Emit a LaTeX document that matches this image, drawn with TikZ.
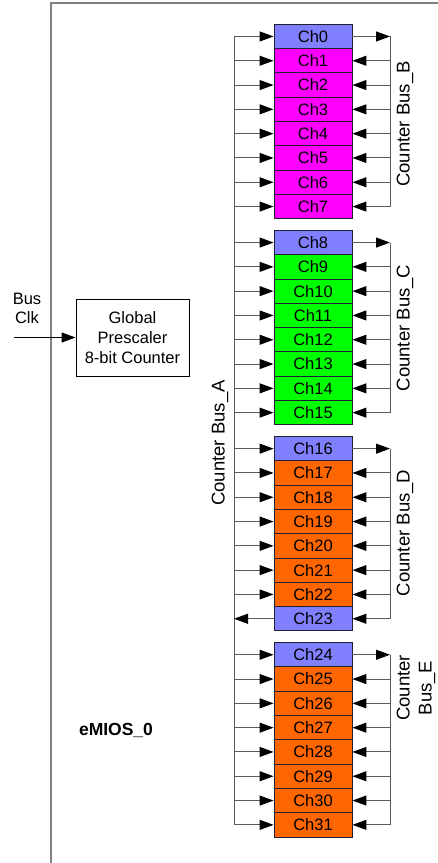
\documentclass[tikz,border=0pt]{standalone}
\usepackage{fontspec}
\setmainfont{Liberation Sans}
\usetikzlibrary{arrows.meta}
\definecolor{chblue}{HTML}{8080FF}
\definecolor{chmag}{HTML}{FF00FF}
\definecolor{chgreen}{HTML}{00FF00}
\definecolor{chorange}{HTML}{FF6600}
\definecolor{wire}{HTML}{5A5A5A}
\definecolor{framegray}{HTML}{808080}
\definecolor{boxline}{HTML}{202035}
\begin{document}
\begin{tikzpicture}[x=1pt,y=-1pt,
  chbox/.style={draw=boxline, line width=0.9pt, minimum width=78pt, minimum height=24.3pt, inner sep=0pt, font=\fontsize{16.5}{19}\selectfont},
  wireline/.style={draw=wire, line width=1pt},
  arr/.style={wireline, -{Triangle[length=14pt,width=10pt,color=black]}},
  buslabel/.style={rotate=90, font=\fontsize{18.5}{22}\selectfont, inner sep=0pt},
  plain/.style={font=\fontsize{16.5}{20}\selectfont, inner sep=0pt},
]
\useasboundingbox (0,0) rectangle (438,863);
\draw[framegray, line width=1.5pt] (51,863) -- (51,3) -- (438,3);

\foreach \i/\col in {0/chblue,1/chmag,2/chmag,3/chmag,4/chmag,5/chmag,6/chmag,7/chmag,
  8/chblue,9/chgreen,10/chgreen,11/chgreen,12/chgreen,13/chgreen,14/chgreen,15/chgreen,
  16/chblue,17/chorange,18/chorange,19/chorange,20/chorange,21/chorange,22/chorange,23/chblue,
  24/chblue,25/chorange,26/chorange,27/chorange,28/chorange,29/chorange,30/chorange,31/chorange}{
  \pgfmathtruncatemacro\g{\i/8}
  \pgfmathtruncatemacro\r{\i-8*\g}
  \pgfmathsetmacro\yc{24.3+206.1*\g+24.3*(\r+0.5)}
  \node[chbox, fill=\col] (c\i) at (313,\yc) {Ch\i};
  \coordinate (L\i) at (234,\yc);
  \coordinate (R\i) at (390,\yc);
}

% Counter Bus_A
\draw[wireline] (L0) -- (L31);
\foreach \i in {0,...,22,24,25,...,31}{
  \draw[arr] (L\i) -- (c\i.west);
}
\draw[arr] (c23.west) -- (L23);

% right buses
\foreach \s in {0,8,16,24}{
  \pgfmathtruncatemacro\e{\s+7}
  \draw[arr] (c\s.east) -- (R\s);
  \draw[wireline] (R\s) -- (R\e);
  \pgfmathtruncatemacro\a{\s+1}
  \foreach \i in {\a,...,\e}{
    \draw[arr] (R\i) -- (c\i.east);
  }
}

\node[buslabel] (lbA) at (220,443) {Counter Bus\_A};
\node[buslabel] (lbB) at (405,124) {Counter Bus\_B};
\node[buslabel] (lbC) at (405,328) {Counter Bus\_C};
\node[buslabel] (lbD) at (405,533) {Counter Bus\_D};
\node[buslabel, align=center] (lbE) at (416,688) {Counter\\Bus\_E};

\node[draw=black, line width=0.9pt, minimum width=113pt, minimum height=77pt, align=center, plain] (gp) at (132.5,337.5) {Global\\Prescaler\\8-bit Counter};
\node[plain, align=center, font=\fontsize{16.5}{19}\selectfont] (bc) at (27,308) {Bus\\Clk};
\coordinate (clkin) at (14,337.5);
\draw[arr, draw=black] (clkin) -- (gp.west);

\node[inner sep=0pt, font=\bfseries\fontsize{17.5}{20}\selectfont] (em) at (116,730) {eMIOS\_0};
\end{tikzpicture}
\end{document}
